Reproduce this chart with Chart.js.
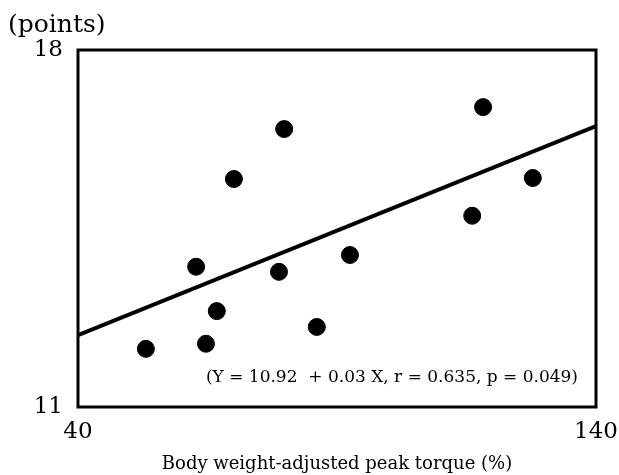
<!DOCTYPE html>
<html lang="en">
<head>
    <meta charset="UTF-8">
    <title>Peak torque vs points</title>
    <script src="https://cdn.jsdelivr.net/npm/chart.js@4.4.1/dist/chart.umd.min.js"></script>
    <style>
        body {
            margin: 0;
            background: #fff;
        }
        #wrap {
            width: 619px;
            height: 475px;
        }
    </style>
</head>
<body>
    <div id="wrap">
        <canvas id="scatterChart" width="619" height="475"></canvas>
    </div>

    <script>
        // points
        const torqueValues = [53.1, 64.7, 62.8, 66.8, 70.1, 79.8, 78.8, 86.1, 92.5, 116.1, 118.2, 127.8];
        const scoreValues = [12.14, 12.24, 13.75, 12.88, 15.47, 16.45, 13.65, 12.57, 13.98, 14.75, 16.88, 15.49];

        // regression line as drawn
        const fitX = [40, 140];
        const fitY = [12.41, 16.51];

        const xTicks = [40, 140];
        const yTicks = [11, 18];

        const yUnit = '(points)';
        const xTitle = 'Body weight-adjusted peak torque (%)';
        const equationText = '(Y = 10.92  + 0.03 X, r = 0.635, p = 0.049)';

        const serif = "'DejaVu Serif', 'Liberation Serif', serif";

        // box around the plot + the equation text
        const framePlugin = {
            id: 'frame',
            afterDatasetsDraw(chart) {
                const { ctx, chartArea } = chart;
                ctx.save();
                ctx.strokeStyle = '#000';
                ctx.lineWidth = 3;
                ctx.strokeRect(chartArea.left, chartArea.top,
                    chartArea.right - chartArea.left, chartArea.bottom - chartArea.top);
                ctx.fillStyle = '#000';
                ctx.font = '17px ' + serif;
                ctx.textAlign = 'right';
                ctx.textBaseline = 'alphabetic';
                ctx.fillText(equationText, chartArea.right - 18, chartArea.bottom - 25);
                ctx.restore();
            }
        };

        const scatterData = torqueValues.map((x, i) => ({ x: x, y: scoreValues[i] }));
        const fitData = fitX.map((x, i) => ({ x: x, y: fitY[i] }));

        new Chart(document.getElementById('scatterChart'), {
            type: 'scatter',
            data: {
                datasets: [
                    {
                        type: 'line',
                        data: fitData,
                        borderColor: '#000',
                        borderWidth: 4,
                        pointRadius: 0,
                        fill: false
                    },
                    {
                        data: scatterData,
                        backgroundColor: '#000',
                        borderColor: '#000',
                        pointRadius: 8.5,
                        pointHoverRadius: 8.5
                    }
                ]
            },
            options: {
                responsive: false,
                animation: false,
                devicePixelRatio: 1,
                layout: {
                    padding: { left: 8, right: 23, top: 10, bottom: 0 }
                },
                plugins: {
                    legend: { display: false },
                    tooltip: { enabled: false },
                    title: {
                        display: true,
                        text: yUnit,
                        align: 'start',
                        color: '#000',
                        font: { family: serif, size: 25, weight: 'normal' },
                        padding: { top: 0, bottom: 10 }
                    }
                },
                scales: {
                    x: {
                        type: 'linear',
                        min: 40,
                        max: 140,
                        afterBuildTicks: scale => { scale.ticks = xTicks.map(v => ({ value: v })); },
                        afterFit: scale => {
                            scale.height = 68;
                            scale.paddingLeft = 0;
                            scale.paddingRight = 0;
                        },
                        grid: { display: false, drawTicks: false },
                        border: { display: false },
                        ticks: {
                            color: '#000',
                            padding: 11,
                            maxRotation: 0,
                            font: { family: serif, size: 23 }
                        },
                        title: {
                            display: true,
                            text: xTitle,
                            color: '#000',
                            font: { family: serif, size: 18 },
                            padding: { top: 6, bottom: 0 }
                        }
                    },
                    y: {
                        type: 'linear',
                        min: 11,
                        max: 18,
                        afterBuildTicks: scale => { scale.ticks = yTicks.map(v => ({ value: v })); },
                        afterFit: scale => { scale.width = 70; },
                        grid: { display: false, drawTicks: false },
                        border: { display: false },
                        ticks: {
                            color: '#000',
                            padding: 15,
                            font: { family: serif, size: 23 }
                        }
                    }
                }
            },
            plugins: [framePlugin]
        });
    </script>
</body>
</html>
